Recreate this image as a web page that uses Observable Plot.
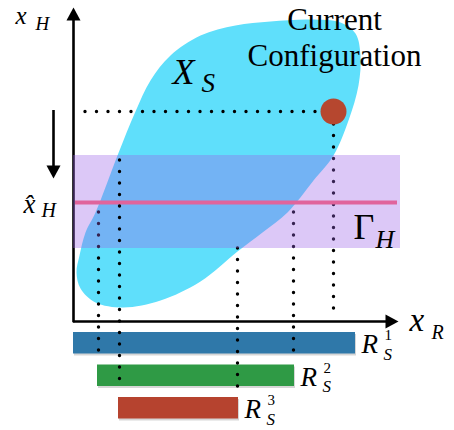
<!DOCTYPE html>
<html><head><meta charset="utf-8">
<script src="https://cdn.jsdelivr.net/npm/d3@7"></script>
<script src="https://cdn.jsdelivr.net/npm/@observablehq/plot@0.6"></script>
<style>body{margin:0;background:#fff}#chart svg{display:block}</style>
</head><body><div id="chart"></div>
<script>
// Feasible set X_S outline (x_R, x_H)
const blobR = [197,237,267,282,287,285,275,260,240,214,189,164,127,87,50,22,7,3,6,12,22,44,62,77,97,127,162];
const blobH = [300,302,299,288,266,236,201,166,141,109,89,70,40,21,14,19,33,49,66,89,109,166,210,241,266,286,296];
// Human band Gamma_H and estimate x̂_H
const bandH = [73, 166];
const bandEndR = 327;
const xHat = 119;
// Current configuration
const currentR = 260, currentH = 210;
// Robot sets R_S^k
const barLabels = ["1", "2", "3"];
const barStart = [0, 24, 45];
const barEnd = [282, 221, 165];
const barColors = ["#2f78a9", "#2f9a45", "#b6432f"];
// projection (dotted) lines
const dropX = [260, 25, 220, 164, 46];
const dropTop = [197, 109, 109, 73, 161];
const dropBottom = [9, -37, -38, -74, -69];
// axes extents
const axisR = 325, axisH = 314;

const blob = blobR.map((r, i) => ({r, h: blobH[i]}));
const bars = barLabels.map((k, i) => ({k, x1: barStart[i], x2: barEnd[i], i}));
const drops = dropX.map((x, i) => ({x, y1: dropTop[i], y2: dropBottom[i]}));
const rowTop = i => -11 - 32.5 * i;
const barH = 21.5;

const head = (dir) => ({draw(c, size) {
  const r = Math.sqrt(size / Math.PI), w = 0.54 * r;
  c.moveTo(0, 0);
  if (dir === "up") { c.lineTo(-w, r); c.lineTo(w, r); }
  else if (dir === "down") { c.lineTo(-w, -r); c.lineTo(w, -r); }
  else { c.lineTo(-r, -w); c.lineTo(-r, w); }
  c.closePath();
}});

const serif = "Liberation Serif";
const dotted = {stroke: "black", strokeWidth: 3.4, strokeDasharray: "0 11.5", strokeLinecap: "round"};
const T = (t, r, h, size, o = {}) => Plot.text([{t, r, h}], {x: "r", y: "h", text: "t", fontSize: size, fontFamily: serif, fontStyle: "italic", textAnchor: "start", lineAnchor: "bottom", fill: "black", ...o});
const barMid = d => rowTop(d.i) - barH / 2;

const chart = Plot.plot({
  width: 454, height: 430, margin: 0,
  x: {domain: [-73, 381], axis: null},
  y: {domain: [-109, 321], axis: null},
  color: {type: "ordinal", domain: barLabels, range: barColors},
  style: {background: "white", overflow: "visible"},
  marks: [
    Plot.line(blob, {x: "r", y: "h", curve: "catmull-rom-closed", fill: "#5fdffb", stroke: "none"}),
    // axes
    Plot.ruleY([0], {x1: 0, x2: axisR - 12, stroke: "black", strokeWidth: 2.6}),
    Plot.ruleX([0], {y1: -1.3, y2: axisH - 12, stroke: "black", strokeWidth: 2.6}),
    Plot.dot([{r: axisR, h: 0}], {x: "r", y: "h", symbol: head("right"), r: 13, fill: "black", stroke: "none"}),
    Plot.dot([{r: 0, h: axisH}], {x: "r", y: "h", symbol: head("up"), r: 13, fill: "black", stroke: "none"}),
    // bars
    Plot.rect(bars, {x1: "x1", x2: "x2", y1: d => rowTop(d.i) - barH, y2: d => rowTop(d.i), fill: "black", fillOpacity: 0.16, dx: 1, dy: 2}),
    Plot.rect(bars, {x1: "x1", x2: "x2", y1: d => rowTop(d.i) - barH, y2: d => rowTop(d.i), fill: "k"}),
    // dotted guides
    Plot.ruleY([currentH], {x1: 12, x2: currentR - 13, ...dotted}),
    Plot.ruleX(drops.slice(0, 4), {x: "x", y1: "y1", y2: "y2", ...dotted}),
    // human band
    Plot.rect([bandH], {x1: 0, x2: bandEndR, y1: d => d[0], y2: d => d[1], fill: "rgb(154,96,232)", fillOpacity: 0.35}),
    Plot.ruleY([xHat], {x1: 2, x2: bandEndR - 3, stroke: "#e0649c", strokeWidth: 4}),
    Plot.ruleX(drops.slice(4), {x: "x", y1: "y1", y2: "y2", ...dotted}),
    // current configuration
    Plot.dot([{r: currentR, h: currentH}], {x: "r", y: "h", r: 13, fill: "#b6472f", stroke: "none"}),
    // down arrow
    Plot.ruleX([-20], {y1: 211, y2: 155, stroke: "black", strokeWidth: 2.6}),
    Plot.dot([{r: -20, h: 143}], {x: "r", y: "h", symbol: head("down"), r: 13, fill: "black", stroke: "none"}),
    // labels
    T("x", -58, 298, 25),
    T("H", -38, 292, 19),
    T("X", 99, 238, 36),
    T("S", 128, 230, 27),
    T("x\u0302", -50, 109, 27),
    T("H", -32, 105, 20),
    T("Γ", 280, 83, 36, {fontStyle: "normal"}),
    T("H", 302, 74, 26),
    T("x", 336, -9, 33),
    T("R", 358, -17, 20),
    Plot.text(["Current\nConfiguration"], {x: 261, y: 256, fontSize: 31, fontFamily: serif, lineAnchor: "bottom", lineHeight: 1.13, textAnchor: "middle", fill: "black"}),
    Plot.text(bars, {x: "x2", y: barMid, text: () => "R", dx: 6, dy: 10, fontSize: 27, fontFamily: serif, fontStyle: "italic", textAnchor: "start", lineAnchor: "bottom", fill: "black"}),
    Plot.text(bars, {x: "x2", y: barMid, text: "k", dx: 29, dy: -3, fontSize: 15, fontFamily: serif, textAnchor: "start", lineAnchor: "bottom", fill: "black"}),
    Plot.text(bars, {x: "x2", y: barMid, text: () => "S", dx: 28, dy: 16.5, fontSize: 17, fontFamily: serif, fontStyle: "italic", textAnchor: "start", lineAnchor: "bottom", fill: "black"})
  ]
});
document.getElementById("chart").appendChild(chart);
</script>
</body></html>
